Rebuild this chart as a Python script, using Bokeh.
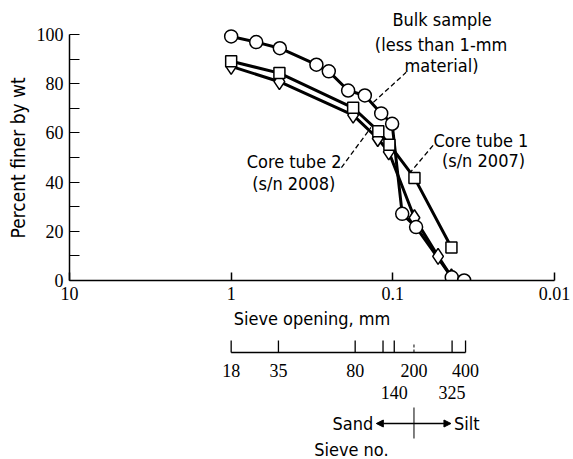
from bokeh.plotting import figure
from bokeh.layouts import column
from bokeh.models import Range1d, FixedTicker, Title, Arrow, NormalHead
from bokeh.core.properties import value
from bokeh.embed import file_html
from bokeh.resources import INLINE

# ---------------- data ----------------
bulk_mm = [1.0, 0.70, 0.50, 0.297, 0.249, 0.189, 0.149, 0.118, 0.101, 0.0875, 0.0718, 0.0432, 0.0362]
bulk_pct = [99.2, 96.9, 94.4, 87.7, 85.0, 77.2, 75.2, 67.9, 63.7, 27.1, 21.7, 1.3, 0.0]

core1_mm = [1.0, 0.503, 0.176, 0.123, 0.105, 0.0735, 0.0434]
core1_pct = [89.1, 84.3, 70.2, 60.7, 55.2, 41.7, 13.4]

core2_mm = [1.0, 0.503, 0.176, 0.124, 0.106, 0.0735, 0.0525, 0.0434]
core2_pct = [87.0, 80.8, 67.2, 57.7, 52.3, 25.5, 9.8, 1.5]

x_ticks = [10, 1, 0.1, 0.01]
x_tick_labels = ["10", "1", "0.1", "0.01"]
y_ticks = [0, 20, 40, 60, 80, 100]
y_minor_ticks = [10, 30, 50, 70, 90]

sieve_no = ["18", "35", "80", "", "140", "200", "325", "400"]
sieve_mm = [1.0, 0.51, 0.171, 0.115, 0.098, 0.074, 0.043, 0.0355]
lower_row = ["140", "325"]
sand_silt_mm = 0.074

# annotation texts and their anchors (mm, percent)
ann_text = ["Bulk sample", "(less than 1-mm", "material)",
            "Core tube 2", "(s/n 2008)", "Core tube 1", "(s/n 2007)"]
ann_x = [0.0496, 0.0503, 0.0500, 0.408, 0.41, 0.0285, 0.0275]
ann_y = [105.9, 96.1, 87.4, 48.2, 39.6, 56.9, 48.8]
# leader lines (mm, percent)
lead_x0 = [0.132, 0.208, 0.0564]
lead_y0 = [72.4, 45.9, 54.9]
lead_x1 = [0.0827, 0.1365, 0.0781]
lead_y1 = [84.6, 62.2, 43.9]

# ---------------- styling ----------------
W = 573
FONT = "DejaVu Sans Condensed"
NUM = "Liberation Serif"
BLACK = "black"

xr = Range1d(10, 0.01)

p = figure(width=W, height=340, x_axis_type="log", x_range=xr,
           y_range=Range1d(0, 113.8), output_backend="svg",
           toolbar_location=None, min_border_left=67, min_border_right=19,
           min_border_top=0, min_border_bottom=60)
p.outline_line_color = None
p.grid.visible = False
p.background_fill_color = "white"

xa = p.xaxis[0]
xa.ticker = FixedTicker(ticks=x_ticks, minor_ticks=[])
xa.major_label_overrides = dict(zip(x_ticks, x_tick_labels))
xa.major_tick_in = 8
xa.major_tick_out = 0
xa.minor_tick_in = 0
xa.minor_tick_out = 0
xa.axis_line_width = 1.5
xa.axis_line_color = BLACK
xa.major_tick_line_width = 1.5
xa.major_tick_line_color = BLACK
xa.major_label_text_font = NUM
xa.major_label_text_font_size = "18px"
xa.major_label_text_color = BLACK
xa.major_label_standoff = 6
xa.axis_label = "Sieve opening, mm"
xa.axis_label_text_font = FONT
xa.axis_label_text_font_size = "18px"
xa.axis_label_text_font_style = "normal"
xa.axis_label_text_color = BLACK
xa.axis_label_standoff = 5

ya = p.yaxis[0]
ya.bounds = (0, 100)
ya.ticker = FixedTicker(ticks=y_ticks, minor_ticks=y_minor_ticks)
ya.major_tick_in = 10
ya.major_tick_out = 0
ya.minor_tick_in = 10
ya.minor_tick_out = 0
ya.axis_line_width = 1.5
ya.axis_line_color = BLACK
ya.major_tick_line_width = 1.2
ya.minor_tick_line_width = 1.2
ya.major_tick_line_color = BLACK
ya.minor_tick_line_color = BLACK
ya.major_label_text_font = NUM
ya.major_label_text_font_size = "18px"
ya.major_label_text_color = BLACK
ya.major_label_standoff = 6

p.add_layout(Title(text="Percent finer by wt", align="left", offset=42,
                   text_font=FONT, text_font_size="19px",
                   text_font_style="normal", text_color=BLACK, standoff=9), "left")

# curves
for xs, ys in [(bulk_mm, bulk_pct), (core1_mm, core1_pct), (core2_mm, core2_pct)]:
    p.line(xs, ys, line_width=3, line_color=BLACK)
p.scatter(core2_mm, core2_pct, marker="diamond", size=16, fill_color="white",
          line_color=BLACK, line_width=1.5)
p.scatter(core1_mm, core1_pct, marker="square", size=11, fill_color="white",
          line_color=BLACK, line_width=1.5)
p.scatter(bulk_mm, bulk_pct, marker="circle", size=13, fill_color="white",
          line_color=BLACK, line_width=1.5)

# leaders and annotations
p.segment(lead_x0, lead_y0, lead_x1, lead_y1, line_color=BLACK,
          line_width=1.3, line_dash="5 3")
p.text(ann_x, ann_y, text=ann_text, text_align="center", text_baseline="middle",
       text_font=value(FONT), text_font_size="18px", text_color=BLACK)

# ---------------- sieve-number scale ----------------
q = figure(width=W, height=119, x_axis_type="log", x_range=xr,
           y_range=Range1d(459, 340), output_backend="svg",
           toolbar_location=None, min_border_left=67, min_border_right=19,
           min_border_top=0, min_border_bottom=0,
           x_axis_location=None, y_axis_location=None)
q.outline_line_color = None
q.grid.visible = False

BASE_Y = 352
TICK_TOP = 338
q.segment([sieve_mm[0]], [BASE_Y], [sieve_mm[-1]], [BASE_Y], line_color=BLACK, line_width=1.5)
solid = [m for m, n in zip(sieve_mm, sieve_no) if n != "200"]
dashed = [m for m, n in zip(sieve_mm, sieve_no) if n == "200"]
q.segment(solid, [BASE_Y] * len(solid), solid, [TICK_TOP] * len(solid),
          line_color=BLACK, line_width=1.3)
q.segment(dashed, [BASE_Y] * len(dashed), dashed, [TICK_TOP + 4] * len(dashed),
          line_color=BLACK, line_width=1.0, line_dash="3 2")

up_x = [m for m, n in zip(sieve_mm, sieve_no) if n and n not in lower_row]
up_t = [n for n in sieve_no if n and n not in lower_row]
lo_x = [m for m, n in zip(sieve_mm, sieve_no) if n in lower_row]
lo_t = [n for n in sieve_no if n in lower_row]
q.text(up_x, [369.5] * len(up_x), text=up_t, text_align="center", text_baseline="middle",
       text_font=value(NUM), text_font_size="18px", text_color=BLACK)
q.text(lo_x, [391.5] * len(lo_x), text=lo_t, text_align="center", text_baseline="middle",
       text_font=value(NUM), text_font_size="18px", text_color=BLACK)

# sand / silt boundary
q.segment([sand_silt_mm], [407], [sand_silt_mm], [438], line_color=BLACK, line_width=1.0)
for x_end in [0.1265, 0.0437]:
    q.add_layout(Arrow(end=NormalHead(size=7, fill_color=BLACK, line_color=BLACK, line_width=1),
                       x_start=sand_silt_mm, y_start=423, x_end=x_end, y_end=423,
                       line_width=1.3, line_color=BLACK))
q.text([0.132], [423], text=["Sand"], text_align="right", text_baseline="middle",
       text_font=value(FONT), text_font_size="18px", text_color=BLACK)
q.text([0.0418], [423], text=["Silt"], text_align="left", text_baseline="middle",
       text_font=value(FONT), text_font_size="18px", text_color=BLACK)
q.text([0.1805], [449], text=["Sieve no."], text_align="center", text_baseline="middle",
       text_font=value(FONT), text_font_size="18px", text_color=BLACK)

layout = column(p, q, spacing=0)
open("out.html", "w").write(file_html(layout, INLINE))
